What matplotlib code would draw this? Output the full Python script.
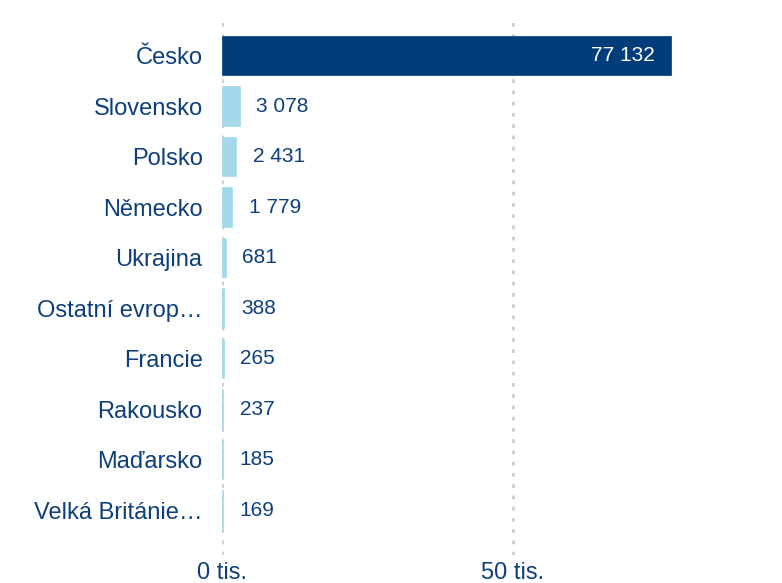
import numpy as np
import matplotlib.pyplot as plt

countries = ['Česko', 'Slovensko', 'Polsko', 'Německo', 'Ukrajina',
             'Ostatní evrop…', 'Francie', 'Rakousko', 'Maďarsko', 'Velká Británie…']
values = [77132, 3078, 2431, 1779, 681, 388, 265, 237, 185, 169]
tick_values = [0, 50000]
tick_labels = ['0 tis.', '50 tis.']

dark = '#003d7a'
light = '#a2d9eb'
text_col = '#0d3f7c'

plt.rcParams['font.family'] = ['Liberation Sans', 'DejaVu Sans']

W, H = 782, 583
fig = plt.figure(figsize=(W / 100, H / 100), dpi=100)
ax = fig.add_axes([222 / W, 1 - 555 / H, (770 - 222) / W, (555 - 20) / H])

y = np.arange(len(countries))
colors = [dark] + [light] * (len(countries) - 1)
ax.barh(y, values, height=0.78, color=colors, edgecolor=colors,
        linewidth=0.5, zorder=2)

px_per_unit = 50000 / 291.0
ax.set_xlim(0, (770 - 222) * px_per_unit)
ax.set_ylim(9 + 0.891, -0.703)

def fmt(v):
    return f'{v:,}'.replace(',', ' ')

for i, v in enumerate(values):
    if i == 0:
        ax.text(v - 16 * px_per_unit, i, fmt(v), color='white', fontsize=15,
                ha='right', va='center', zorder=3)
    else:
        ax.text(v + 16.5 * px_per_unit, i, fmt(v), color=text_col, fontsize=15,
                ha='left', va='center', zorder=3)

for t in tick_values:
    ax.axvline(t, color='#c8c8c8', linestyle=(0, (1.5, 3)), linewidth=1.8, zorder=1)

ax.set_yticks(y)
ax.set_yticklabels(countries, fontsize=17, color=text_col)
ax.set_xticks(tick_values)
ax.set_xticklabels(tick_labels, fontsize=17, color=text_col)
ax.tick_params(axis='y', length=0, pad=14)
ax.tick_params(axis='x', length=0, pad=5)
for s in ax.spines.values():
    s.set_visible(False)

fig.savefig('out.png', dpi=100)
